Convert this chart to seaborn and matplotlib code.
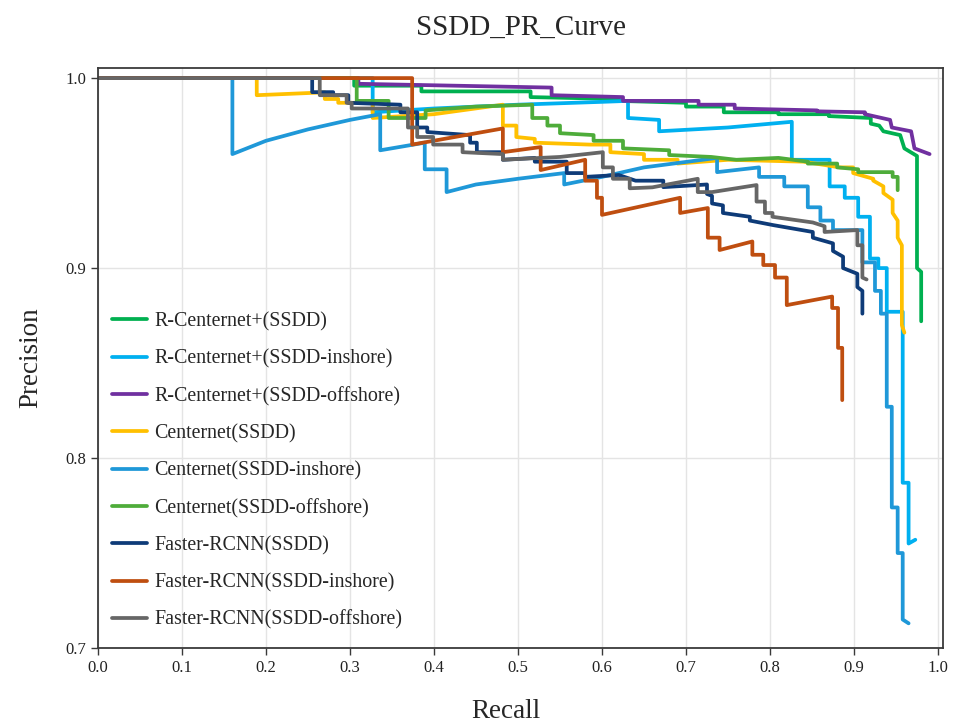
import pandas as pd
import seaborn as sns
import matplotlib.pyplot as plt

# PR curve vertices (recall, precision)
rc_ssdd_r = [0, 0.305, 0.305, 0.385, 0.385, 0.515, 0.515, 0.62, 0.62, 0.70, 0.70, 0.745, 0.745, 0.81,
             0.81, 0.87, 0.87, 0.92, 0.92, 0.93, 0.935, 0.955, 0.96, 0.975, 0.975, 0.98, 0.98]
rc_ssdd_p = [1, 1, 0.996, 0.996, 0.993, 0.993, 0.990, 0.989, 0.988, 0.987, 0.985, 0.985, 0.982, 0.982,
             0.981, 0.981, 0.980, 0.979, 0.976, 0.975, 0.972, 0.970, 0.963, 0.959, 0.900, 0.898, 0.872]

rc_in_r = [0, 0.327, 0.327, 0.40, 0.50, 0.60, 0.631, 0.631, 0.668, 0.668, 0.75, 0.826, 0.826, 0.871,
           0.871, 0.889, 0.889, 0.905, 0.905, 0.919, 0.919, 0.929, 0.929, 0.939, 0.939, 0.958, 0.958,
           0.965, 0.965, 0.973]
rc_in_p = [1, 1, 0.982, 0.984, 0.986, 0.9875, 0.988, 0.979, 0.978, 0.972, 0.974, 0.977, 0.957, 0.957,
           0.943, 0.943, 0.937, 0.937, 0.927, 0.927, 0.905, 0.905, 0.900, 0.900, 0.877, 0.877, 0.787,
           0.787, 0.755, 0.757]

rc_off_r = [0, 0.31, 0.31, 0.54, 0.54, 0.625, 0.625, 0.715, 0.715, 0.758, 0.758, 0.856, 0.856, 0.913,
            0.913, 0.943, 0.945, 0.968, 0.972, 0.99]
rc_off_p = [1, 1, 0.997, 0.995, 0.991, 0.990, 0.988, 0.988, 0.986, 0.986, 0.984, 0.983, 0.9825, 0.982,
            0.981, 0.978, 0.974, 0.972, 0.963, 0.960]

cn_ssdd_r = [0, 0.189, 0.189, 0.27, 0.27, 0.286, 0.286, 0.327, 0.327, 0.40, 0.482, 0.482, 0.498, 0.498,
             0.52, 0.52, 0.585, 0.61, 0.61, 0.65, 0.65, 0.69, 0.69, 0.75, 0.84, 0.883, 0.899, 0.899,
             0.923, 0.923, 0.935, 0.935, 0.946, 0.946, 0.952, 0.952, 0.957, 0.957, 0.96]
cn_ssdd_p = [1, 1, 0.991, 0.9925, 0.989, 0.989, 0.987, 0.987, 0.979, 0.981, 0.986, 0.975, 0.975, 0.969,
             0.968, 0.966, 0.965, 0.965, 0.961, 0.960, 0.957, 0.957, 0.955, 0.957, 0.956, 0.953, 0.953,
             0.950, 0.947, 0.946, 0.943, 0.9395, 0.936, 0.929, 0.925, 0.916, 0.912, 0.870, 0.866]

cn_in_r = [0, 0.16, 0.16, 0.20, 0.25, 0.30, 0.336, 0.336, 0.389, 0.389, 0.415, 0.415, 0.45, 0.50, 0.555,
           0.555, 0.60, 0.65, 0.737, 0.737, 0.787, 0.787, 0.817, 0.817, 0.845, 0.845, 0.86, 0.86, 0.875,
           0.875, 0.91, 0.91, 0.925, 0.925, 0.932, 0.932, 0.939, 0.939, 0.945, 0.945, 0.952, 0.952,
           0.958, 0.958, 0.965]
cn_in_p = [1, 1, 0.96, 0.967, 0.973, 0.978, 0.981, 0.962, 0.966, 0.952, 0.952, 0.940, 0.944, 0.947, 0.950,
           0.944, 0.948, 0.953, 0.958, 0.9505, 0.953, 0.948, 0.948, 0.943, 0.943, 0.932, 0.932, 0.925, 0.925,
           0.920, 0.920, 0.903, 0.903, 0.888, 0.888, 0.876, 0.876, 0.827, 0.827, 0.774, 0.774, 0.750,
           0.750, 0.715, 0.713]

cn_off_r = [0, 0.308, 0.308, 0.346, 0.346, 0.39, 0.39, 0.45, 0.517, 0.517, 0.535, 0.535, 0.55, 0.55, 0.59,
            0.59, 0.625, 0.625, 0.68, 0.68, 0.73, 0.76, 0.81, 0.845, 0.845, 0.88, 0.88, 0.905, 0.905,
            0.946, 0.946, 0.952, 0.952]
cn_off_p = [1, 1, 0.988, 0.988, 0.979, 0.979, 0.983, 0.985, 0.986, 0.979, 0.979, 0.975, 0.975, 0.971, 0.970,
            0.967, 0.967, 0.963, 0.962, 0.9595, 0.9585, 0.957, 0.958, 0.956, 0.955, 0.955, 0.953, 0.952,
            0.9505, 0.9505, 0.948, 0.948, 0.941]

fr_ssdd_r = [0, 0.255, 0.255, 0.28, 0.28, 0.298, 0.298, 0.36, 0.36, 0.38, 0.38, 0.392, 0.392, 0.443, 0.443,
             0.451, 0.451, 0.482, 0.482, 0.52, 0.52, 0.558, 0.558, 0.58, 0.58, 0.62, 0.64, 0.673, 0.673,
             0.725, 0.725, 0.731, 0.731, 0.744, 0.744, 0.776, 0.776, 0.804, 0.851, 0.851, 0.875, 0.875,
             0.887, 0.887, 0.904, 0.904, 0.91, 0.91]
fr_ssdd_p = [1, 1, 0.9926, 0.9926, 0.991, 0.991, 0.987, 0.986, 0.982, 0.982, 0.974, 0.974, 0.9716, 0.970,
             0.966, 0.966, 0.961, 0.961, 0.957, 0.958, 0.956, 0.956, 0.950, 0.950, 0.948, 0.949, 0.946,
             0.946, 0.9426, 0.944, 0.939, 0.938, 0.934, 0.933, 0.929, 0.927, 0.925, 0.9226, 0.919, 0.916,
             0.913, 0.909, 0.906, 0.900, 0.897, 0.890, 0.888, 0.876]

fr_in_r = [0, 0.374, 0.374, 0.482, 0.482, 0.527, 0.527, 0.58, 0.58, 0.594, 0.594, 0.60, 0.60, 0.693, 0.693,
           0.726, 0.726, 0.74, 0.74, 0.779, 0.779, 0.792, 0.792, 0.806, 0.806, 0.82, 0.82, 0.874, 0.874,
           0.881, 0.881, 0.886, 0.886]
fr_in_p = [1, 1, 0.965, 0.9735, 0.961, 0.9637, 0.9516, 0.957, 0.946, 0.946, 0.937, 0.937, 0.928, 0.937,
           0.929, 0.9316, 0.916, 0.916, 0.9095, 0.914, 0.907, 0.907, 0.9016, 0.9016, 0.895, 0.895, 0.8805,
           0.885, 0.879, 0.879, 0.858, 0.858, 0.8305]

fr_off_r = [0, 0.264, 0.264, 0.296, 0.296, 0.302, 0.302, 0.369, 0.369, 0.38, 0.38, 0.399, 0.399, 0.434,
            0.434, 0.482, 0.482, 0.55, 0.601, 0.601, 0.613, 0.613, 0.633, 0.633, 0.66, 0.714, 0.714, 0.731,
            0.784, 0.784, 0.794, 0.794, 0.803, 0.803, 0.851, 0.865, 0.865, 0.904, 0.904, 0.91, 0.91, 0.915]
fr_off_p = [1, 1, 0.991, 0.991, 0.987, 0.987, 0.984, 0.984, 0.974, 0.974, 0.969, 0.969, 0.965, 0.965,
            0.961, 0.960, 0.957, 0.9585, 0.961, 0.953, 0.953, 0.947, 0.947, 0.942, 0.9425, 0.947, 0.940,
            0.940, 0.9437, 0.935, 0.935, 0.929, 0.929, 0.927, 0.924, 0.922, 0.919, 0.920, 0.912, 0.912,
            0.895, 0.894]

models = ['R-Centernet+(SSDD)', 'R-Centernet+(SSDD-inshore)', 'R-Centernet+(SSDD-offshore)',
          'Centernet(SSDD)', 'Centernet(SSDD-inshore)', 'Centernet(SSDD-offshore)',
          'Faster-RCNN(SSDD)', 'Faster-RCNN(SSDD-inshore)', 'Faster-RCNN(SSDD-offshore)']
curves = [(rc_ssdd_r, rc_ssdd_p), (rc_in_r, rc_in_p), (rc_off_r, rc_off_p),
          (cn_ssdd_r, cn_ssdd_p), (cn_in_r, cn_in_p), (cn_off_r, cn_off_p),
          (fr_ssdd_r, fr_ssdd_p), (fr_in_r, fr_in_p), (fr_off_r, fr_off_p)]
colors = ['#00B050', '#00B0F0', '#7030A0', '#FFC000', '#1F98D8', '#4EAC3A',
          '#0E3B78', '#BF4E10', '#666666']

frames = []
for name, (r, p) in zip(models, curves):
    frames.append(pd.DataFrame({'Recall': r, 'Precision': p, 'Model': name}))
df = pd.concat(frames, ignore_index=True)

sns.set_theme(style='whitegrid')
plt.rcParams['font.family'] = ['Liberation Serif', 'DejaVu Serif']

fig = plt.figure(figsize=(9.57, 7.26), dpi=100)
ax = fig.add_axes([0.1024, 0.1074, 0.883, 0.7989])

sns.lineplot(data=df, x='Recall', y='Precision', hue='Model', hue_order=models,
             palette=dict(zip(models, colors)), sort=False, estimator=None,
             linewidth=2.7, ax=ax)

ax.set_xlim(0, 1.006)
ax.set_ylim(0.7, 1.0053)
ax.set_xticks([i / 10 for i in range(11)])
ax.set_yticks([0.7, 0.8, 0.9, 1.0])
ax.grid(True, color='#e4e4e4', linewidth=1.0)
for s in ax.spines.values():
    s.set_color('#3a3a3a')
    s.set_linewidth(1.3)
ax.set_facecolor('white')
ax.tick_params(axis='both', direction='out', length=5, width=1, color='#3a3a3a',
               labelsize=12, labelcolor='#222222', bottom=True, left=True)

ax.set_title('SSDD_PR_Curve', fontsize=21, pad=24)
ax.set_xlabel('Recall', fontsize=19.5)
ax.xaxis.set_label_coords(0.483, -0.088)
ax.set_ylabel('Precision', fontsize=19.5, labelpad=16)

handles, labels = ax.get_legend_handles_labels()
ax.legend(handles, labels, loc='upper left', bbox_to_anchor=(0.017, 0.579),
          frameon=False, fontsize=14.4, handlelength=1.75, handletextpad=0.35,
          labelspacing=0.9, borderpad=0, borderaxespad=0)

plt.savefig('out.png', dpi=100)
